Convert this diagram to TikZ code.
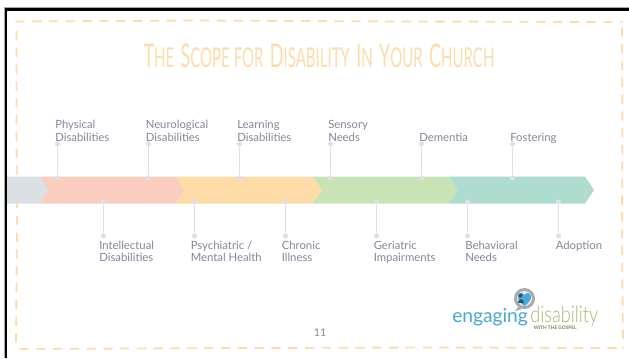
\documentclass[tikz,border=0pt]{standalone}
\usepackage{fontspec}
\setmainfont{Lato}
\newfontfamily\thinfont[UprightFont=* Light]{Lato}
\definecolor{labelgray}{HTML}{85859A}
\definecolor{stemgray}{HTML}{DDE1E9}
\definecolor{dashorange}{HTML}{FEDCAB}
\definecolor{barsteel}{HTML}{DAE0E6}
\definecolor{barred}{HTML}{FBCDBE}
\definecolor{barorange}{HTML}{FDDCA8}
\definecolor{bargreen}{HTML}{CAE3B4}
\definecolor{barteal}{HTML}{AEDDCF}
\definecolor{logoblue}{HTML}{48A8DA}
\definecolor{logogreen}{HTML}{A8B878}
\definecolor{logogray}{HTML}{A9A9A9}
\newcommand{\tcap}[1]{{\fontsize{24.5}{26}\selectfont #1}}
\newcommand{\tsm}[1]{{\fontsize{20.5}{26}\selectfont #1}}
\tikzset{
  x=0.75pt,y=-0.75pt,
  stemdot/.style={circle,fill=stemgray,inner sep=0pt,minimum size=3.8pt},
  stemline/.style={draw=stemgray,line width=0.75pt},
  labtop/.style={text=labelgray,font=\fontsize{8.5}{9.8}\selectfont,align=left,inner sep=0pt,anchor=south west},
  labbot/.style={text=labelgray,font=\fontsize{8.5}{9.1}\selectfont,align=left,inner sep=0pt,anchor=north west},
  frame/.style={draw=dashorange,line width=1.4pt,line cap=round,dash pattern=on 6pt off 6.6pt},
}
\begin{document}
\begin{tikzpicture}
\useasboundingbox (0,0) rectangle (629,358);
\fill[white] (0,0) rectangle (629,358);
% slide edge
\fill[black] (5,8) rectangle (629,10.5);
\fill[black] (5,8) rectangle (7,358);
\fill[gray!70] (4.3,7.3) rectangle (629,8);
\fill[gray!70] (4.3,7.3) rectangle (5,358);
% hand-drawn frame
\draw[frame] (16,21.5) -- (200,20.5) -- (400,21.5) -- (622,22);
\draw[frame] (622,28) -- (622.5,120) -- (622,240) -- (623,348);
\draw[frame] (616,348) -- (430,347.5) -- (240,348) -- (16,349);
\draw[frame] (16,342) -- (17,230) -- (16.5,130) -- (16.5,28);
% bar
\fill[barsteel] (7,176.5) -- (40,176.5) -- (48.5,190) -- (40,203.5) -- (7,203.5) -- cycle;
\fill[barred] (40,176.5) -- (176,176.5) -- (184.5,190) -- (176,203.5) -- (40,203.5) -- (48.5,190) -- cycle;
\fill[barorange] (176,176.5) -- (313,176.5) -- (322,190) -- (313,203.5) -- (176,203.5) -- (184.5,190) -- cycle;
\fill[bargreen] (313,176.5) -- (449,176.5) -- (457.5,190) -- (449,203.5) -- (313,203.5) -- (322,190) -- cycle;
\fill[barteal] (449,176.5) -- (585,176.5) -- (594,190) -- (585,203.5) -- (449,203.5) -- (457.5,190) -- cycle;
% stems above the bar
\foreach \n/\px in {a/57.5,b/148.5,c/239.5,d/330.5,e/421.5,f/512.5}{
  \node[stemdot] (\n1) at (\px,144) {};
  \node[stemdot] (\n2) at (\px,178) {};
  \draw[stemline] (\n1) -- (\n2);
}
% stems below the bar
\foreach \n/\px in {g/103.5,h/194.5,i/285.5,j/376.5,k/467.5,l/558.5}{
  \node[stemdot] (\n1) at (\px,202) {};
  \node[stemdot] (\n2) at (\px,236) {};
  \draw[stemline] (\n1) -- (\n2);
}
% labels
\node[labtop] (la) at (55,144) {Physical\\Disabilities\vphantom{g}};
\node[labtop] (lb) at (145.5,144) {Neurological\\Disabilities\vphantom{g}};
\node[labtop] (lc) at (237,144) {Learning\\Disabilities\vphantom{g}};
\node[labtop] (ld) at (328,144) {Sensory\\Needs\vphantom{g}};
\node[labtop] (le) at (419,144) {Dementia\vphantom{g}};
\node[labtop] (lf) at (510,144) {Fostering};
\node[labbot] (lg) at (99,241) {Intellectual\\Disabilities};
\node[labbot] (lh) at (190.5,241) {Psychiatric /\\Mental Health};
\node[labbot] (li) at (281.5,241) {Chronic\\Illness};
\node[labbot] (lj) at (373.5,241) {Geriatric\\Impairments};
\node[labbot] (lk) at (465,241) {Behavioral\\Needs};
\node[labbot] (ll) at (555.5,241) {Adoption};
% title
\node[text=dashorange,inner sep=0pt,anchor=base] (title) at (319,67.5) {\scalebox{0.55}[1]{\tcap{T}\tsm{HE}\hspace{6pt} \tcap{S}\tsm{COPE FOR}\hspace{6pt} \tcap{D}\tsm{ISABILITY}\hspace{6pt} \tcap{I}\tsm{N}\hspace{6pt} \tcap{Y}\tsm{OUR}\hspace{6pt} \tcap{C}\tsm{HURCH}}};
% page number
\node[text=labelgray,font=\fontsize{8}{9}\selectfont,inner sep=0pt] (page) at (320,333) {11};
% logo
\fill[logogray] (518,307) -- (515,311) -- (522,309) -- cycle;
\fill[logogray] (524.5,298.5) circle (10.5);
\fill[white!75!logogray] (524.5,298.5) circle (7.5);
\fill[logoblue] (524.5,306) .. controls (519,301.5) and (517.5,299) .. (518,296) .. controls (519,292) and (523,292.5) .. (524.5,295) .. controls (526,292.5) and (530,292) .. (531,296) .. controls (531.5,299) and (530,301.5) .. (524.5,306) -- cycle;
\fill[logoblue!50!black] (520.5,295.5) circle (2);
\fill[logoblue!50!black] (517.5,303) .. controls (517.5,298) and (523.5,298) .. (523.5,303) -- cycle;
\node[text=logoblue,font=\fontsize{14.4}{16}\selectfont,inner sep=0pt,anchor=base west] (engaging) at (452,322.5) {engaging};
\node[text=logogreen,font=\thinfont\fontsize{17}{18}\selectfont,inner sep=0pt,anchor=base west] (disab) at (530,322.5) {\scalebox{0.8}[1]{disability}};
\node[text=logogreen!70!black,font=\bfseries\fontsize{3.6}{4}\selectfont,inner sep=0pt,anchor=base west] (gospel) at (533.5,329) {WITH THE GOSPEL};
\end{tikzpicture}
\end{document}
